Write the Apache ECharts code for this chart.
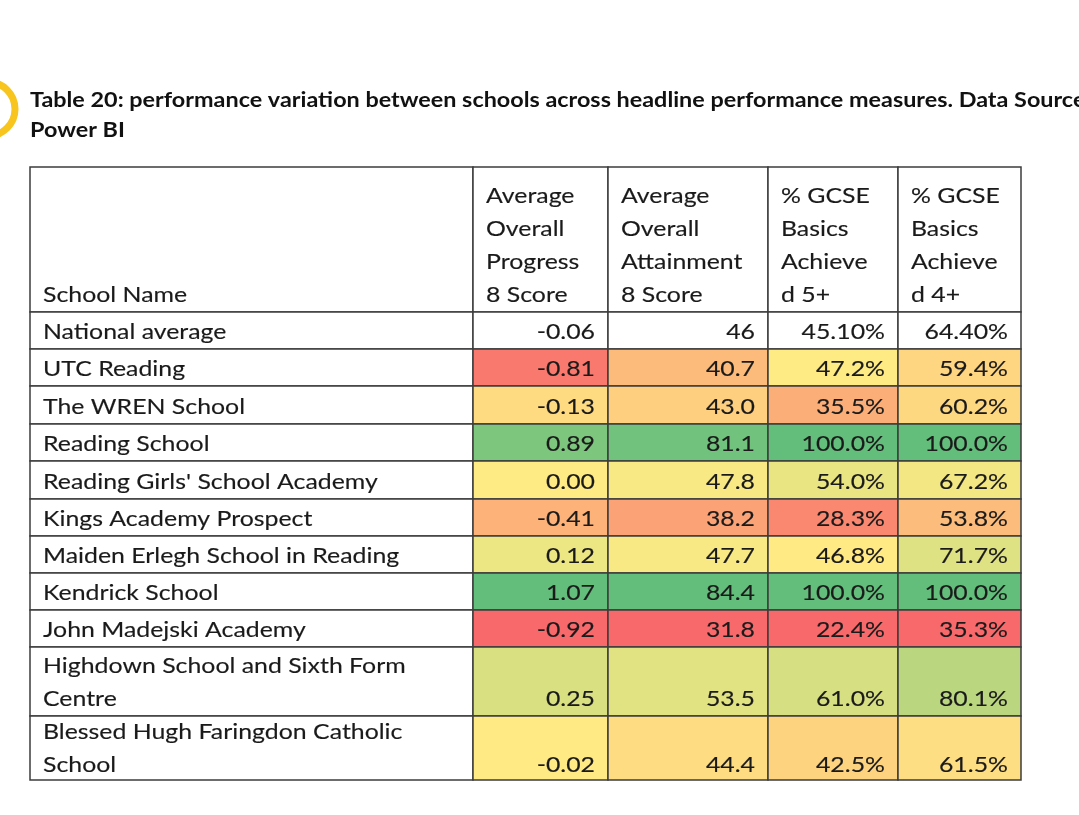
<!DOCTYPE html>
<html lang="en">
<head>
    <meta charset="UTF-8">
    <title>Table 20</title>
    <script src="https://cdn.jsdelivr.net/npm/echarts@6/dist/echarts.min.js"></script>
    <style>
        html, body {margin: 0; padding: 0; background: #fff;}
    </style>
</head>
<body>
<div id="main" style="width: 1079px;height:815px;"></div>
<script type="text/javascript">
    var headers = [
        'School Name',
        'Average\nOverall\nProgress\n8 Score',
        'Average\nOverall\nAttainment\n8 Score',
        '% GCSE\nBasics\nAchieve\nd 5+',
        '% GCSE\nBasics\nAchieve\nd 4+'
    ];
    var schools = [
        'UTC Reading',
        'The WREN School',
        'Reading School',
        "Reading Girls' School Academy",
        'Kings Academy Prospect',
        'Maiden Erlegh School in Reading',
        'Kendrick School',
        'John Madejski Academy',
        'Highdown School and Sixth Form\nCentre',
        'Blessed Hugh Faringdon Catholic\nSchool'
    ];
    var national = [-0.06, 46, 45.10, 64.40];
    var progress8 = [-0.81, -0.13, 0.89, 0.00, -0.41, 0.12, 1.07, -0.92, 0.25, -0.02];
    var attainment8 = [40.7, 43.0, 81.1, 47.8, 38.2, 47.7, 84.4, 31.8, 53.5, 44.4];
    var basics5 = [47.2, 35.5, 100.0, 54.0, 28.3, 46.8, 100.0, 22.4, 61.0, 42.5];
    var basics4 = [59.4, 60.2, 100.0, 67.2, 53.8, 71.7, 100.0, 35.3, 80.1, 61.5];

    // layout of the table (widths / heights in axis units)
    var colWidths = [443, 135, 160, 130, 123];
    var rowHeights = [145, 37, 37, 38, 37, 38, 37, 37, 37, 37, 69, 64];

    var colEdges = [0];
    colWidths.forEach(function (w) { colEdges.push(colEdges[colEdges.length - 1] + w); });
    var rowEdges = [0];
    rowHeights.forEach(function (h) { rowEdges.push(rowEdges[rowEdges.length - 1] + h); });

    var RED = [248, 105, 107], YELLOW = [255, 235, 132], GREEN = [99, 190, 123];
    function mix(a, b, t) {
        t = Math.max(0, Math.min(1, t));
        return 'rgb(' + a.map(function (v, i) { return Math.round(v + (b[i] - v) * t); }).join(',') + ')';
    }
    function median(arr) {
        var s = arr.slice().sort(function (a, b) { return a - b; });
        var n = s.length;
        return n % 2 ? s[(n - 1) / 2] : (s[n / 2 - 1] + s[n / 2]) / 2;
    }
    function scaleColor(v, arr) {
        var lo = Math.min.apply(null, arr), hi = Math.max.apply(null, arr), mid = median(arr);
        if (v <= mid) return mix(RED, YELLOW, (v - lo) / (mid - lo));
        return mix(YELLOW, GREEN, (v - mid) / (hi - mid));
    }

    var columns = [progress8, attainment8, basics5, basics4];
    var formats = [
        function (v) { return v.toFixed(2); },
        function (v) { return v.toFixed(1); },
        function (v) { return v.toFixed(1) + '%'; },
        function (v) { return v.toFixed(1) + '%'; }
    ];
    var nationalFormats = [
        function (v) { return v.toFixed(2); },
        function (v) { return String(v); },
        function (v) { return v.toFixed(2) + '%'; },
        function (v) { return v.toFixed(2) + '%'; }
    ];

    // build cells
    var cells = [];
    headers.forEach(function (h, c) {
        cells.push({c: c, r: 0, text: h, fill: '#fff', align: 'left'});
    });
    cells.push({c: 0, r: 1, text: 'National average', fill: '#fff', align: 'left'});
    national.forEach(function (v, c) {
        cells.push({c: c + 1, r: 1, text: nationalFormats[c](v), fill: '#fff', align: 'right'});
    });
    schools.forEach(function (name, i) {
        cells.push({c: 0, r: i + 2, text: name, fill: '#fff', align: 'left'});
        columns.forEach(function (col, c) {
            cells.push({c: c + 1, r: i + 2, text: formats[c](col[i]), fill: scaleColor(col[i], col), align: 'right'});
        });
    });

    var myChart = echarts.init(document.getElementById('main'));
    var option = {
        backgroundColor: '#fff',
        animation: false,
        graphic: [
            {
                type: 'circle',
                shape: {cx: -12, cy: 109, r: 27},
                style: {fill: 'none', stroke: '#F7C51E', lineWidth: 7}
            },
            {
                type: 'text',
                x: 30, y: 100, scaleX: 1.14,
                style: {
                    text: 'Table 20: performance variation between schools across headline performance measures. Data Source',
                    font: 'bold 20.5px Lato', fill: '#111', verticalAlign: 'middle'
                }
            },
            {
                type: 'text',
                x: 30, y: 130, scaleX: 1.14,
                style: {text: 'Power BI', font: 'bold 20.5px Lato', fill: '#111', verticalAlign: 'middle'}
            }
        ],
        grid: {left: 30, right: 58, top: 167, bottom: 35},
        xAxis: {type: 'value', min: 0, max: colEdges[colEdges.length - 1], show: false},
        yAxis: {type: 'value', min: 0, max: rowEdges[rowEdges.length - 1], inverse: true, show: false},
        series: [{
            type: 'custom',
            data: cells.map(function (cell) { return [cell.c, cell.r]; }),
            renderItem: function (params, api) {
                var cell = cells[params.dataIndex];
                var p0 = api.coord([colEdges[cell.c], rowEdges[cell.r]]);
                var p1 = api.coord([colEdges[cell.c + 1], rowEdges[cell.r + 1]]);
                var tx = cell.align === 'right' ? p1[0] - 13 : p0[0] + 13;
                var ty = p1[1] + (cell.r === rowHeights.length - 1 ? 2 : 0);
                return {
                    type: 'group',
                    children: [{
                        type: 'rect',
                        shape: {x: p0[0], y: p0[1], width: p1[0] - p0[0], height: p1[1] - p0[1]},
                        style: {fill: cell.fill, stroke: '#3c3c3c', lineWidth: 1.5}
                    }, {
                        type: 'text',
                        x: tx,
                        y: ty,
                        scaleX: 1.13,
                        style: {
                            text: cell.text,
                            x: 0,
                            y: 0,
                            align: cell.align,
                            verticalAlign: 'bottom',
                            fontFamily: 'Lato',
                            fontSize: 22,
                            lineHeight: 33.3,
                            fill: '#1a1a1a',
                            stroke: '#1a1a1a',
                            lineWidth: 0.15
                        }
                    }]
                };
            }
        }]
    };
    myChart.setOption(option);
</script>
</body>
</html>
